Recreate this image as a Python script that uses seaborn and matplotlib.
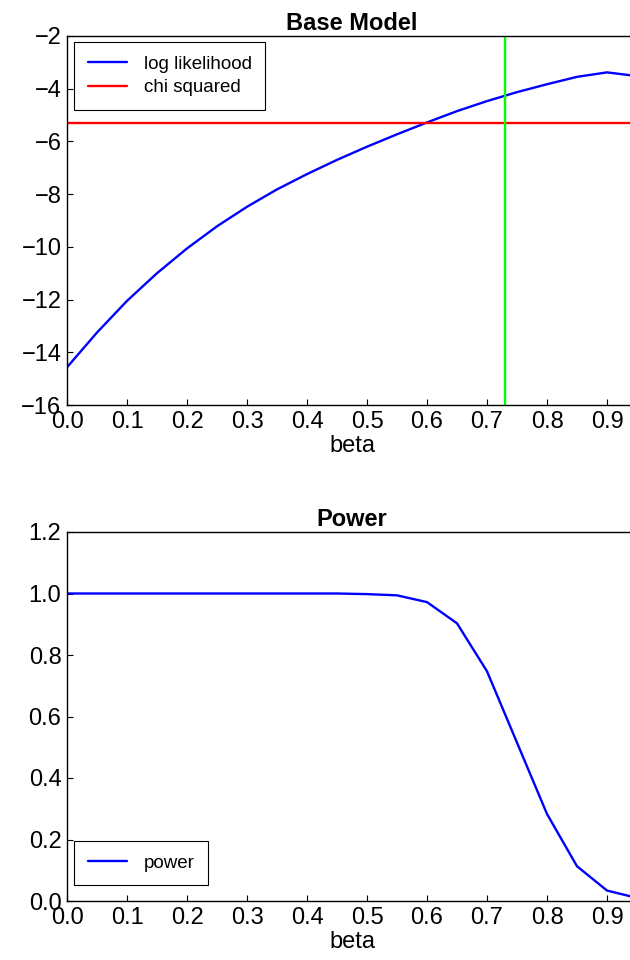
import numpy as np
import pandas as pd
import matplotlib
matplotlib.use("Agg")
import matplotlib.pyplot as plt
import seaborn as sns

# ---- data ----
beta = [0.00, 0.05, 0.10, 0.15, 0.20, 0.25, 0.30, 0.35, 0.40, 0.45,
        0.50, 0.55, 0.60, 0.65, 0.70, 0.75, 0.80, 0.85, 0.90, 0.95]
log_likelihood = [-14.57, -13.25, -12.05, -11.00, -10.06, -9.22, -8.48, -7.82, -7.24, -6.70,
                  -6.20, -5.73, -5.28, -4.85, -4.47, -4.13, -3.83, -3.55, -3.38, -3.52]
chi_squared = -5.29
beta_hat = 0.73
power = [1.0, 1.0, 1.0, 1.0, 1.0, 1.0, 1.0, 1.0, 1.0, 1.0,
         0.998, 0.994, 0.972, 0.903, 0.747, 0.515, 0.283, 0.113, 0.034, 0.010]
x_ticks = [0.0, 0.1, 0.2, 0.3, 0.4, 0.5, 0.6, 0.7, 0.8, 0.9]
y_ticks_top = [-16, -14, -12, -10, -8, -6, -4, -2]
y_ticks_bottom = [0.0, 0.2, 0.4, 0.6, 0.8, 1.0, 1.2]

df = pd.DataFrame({"beta": beta, "ll": log_likelihood, "power": power})

sns.set_theme(style="white")
plt.rcParams["font.family"] = ["Liberation Sans", "DejaVu Sans"]
plt.rcParams["axes.edgecolor"] = "black"
plt.rcParams["axes.linewidth"] = 1.0
plt.rcParams["xtick.direction"] = "in"
plt.rcParams["ytick.direction"] = "in"
plt.rcParams["text.color"] = "black"
plt.rcParams["axes.labelcolor"] = "black"
plt.rcParams["xtick.color"] = "black"
plt.rcParams["ytick.color"] = "black"

fig = plt.figure(figsize=(6.3, 9.6), dpi=100)
W, H = 630, 960
ax1 = fig.add_axes([67 / W, (H - 405) / H, 570 / W, 369 / H])
ax2 = fig.add_axes([67 / W, (H - 901) / H, 570 / W, 369 / H])

lw = 1.7
tick_fs = 17
leg_fs = 13.5
leg_kw = dict(fontsize=leg_fs, frameon=True, fancybox=False, edgecolor="black",
              framealpha=1, borderpad=0.72, handlelength=2.1, handletextpad=0.9,
              labelspacing=0.35, borderaxespad=0.0)

# top panel
sns.lineplot(data=df, x="beta", y="ll", ax=ax1, color="blue", lw=lw, label="log likelihood")
ax1.axhline(chi_squared, color="red", lw=lw, label="chi squared")
ax1.axvline(beta_hat, color="#00ff00", lw=lw)
ax1.set_xlim(0, 0.95)
ax1.set_ylim(-16, -2)
ax1.set_xticks(x_ticks)
ax1.set_xticklabels([f"{t:.1f}" for t in x_ticks])
ax1.set_yticks(y_ticks_top)
ax1.set_yticklabels([f"\u2212{abs(t)}" for t in y_ticks_top])
ax1.set_xlabel("beta", fontsize=tick_fs, labelpad=2)
ax1.set_ylabel("")
ax1.set_title("Base Model", fontsize=tick_fs, fontweight="bold", pad=4)
leg = ax1.legend(loc="upper left", bbox_to_anchor=(7 / 570, 1 - 6 / 369), **leg_kw)
leg.get_frame().set_linewidth(0.8)

# bottom panel
sns.lineplot(data=df, x="beta", y="power", ax=ax2, color="blue", lw=lw, label="power")
ax2.set_xlim(0, 0.95)
ax2.set_ylim(0, 1.2)
ax2.set_xticks(x_ticks)
ax2.set_xticklabels([f"{t:.1f}" for t in x_ticks])
ax2.set_yticks(y_ticks_bottom)
ax2.set_yticklabels([f"{t:.1f}" for t in y_ticks_bottom])
ax2.set_xlabel("beta", fontsize=tick_fs, labelpad=2)
ax2.set_ylabel("")
ax2.set_title("Power", fontsize=tick_fs, fontweight="bold", pad=4)
leg2 = ax2.legend(loc="lower left", bbox_to_anchor=(7 / 570, 16 / 369), **leg_kw)
leg2.get_frame().set_linewidth(0.8)

for ax in (ax1, ax2):
    ax.tick_params(axis="both", which="major", labelsize=tick_fs, length=4, width=0.8,
                   pad=4, left=True, bottom=True, color="black", labelcolor="black")
    for s in ax.spines.values():
        s.set_color("black")

fig.savefig("out.png", dpi=100)
